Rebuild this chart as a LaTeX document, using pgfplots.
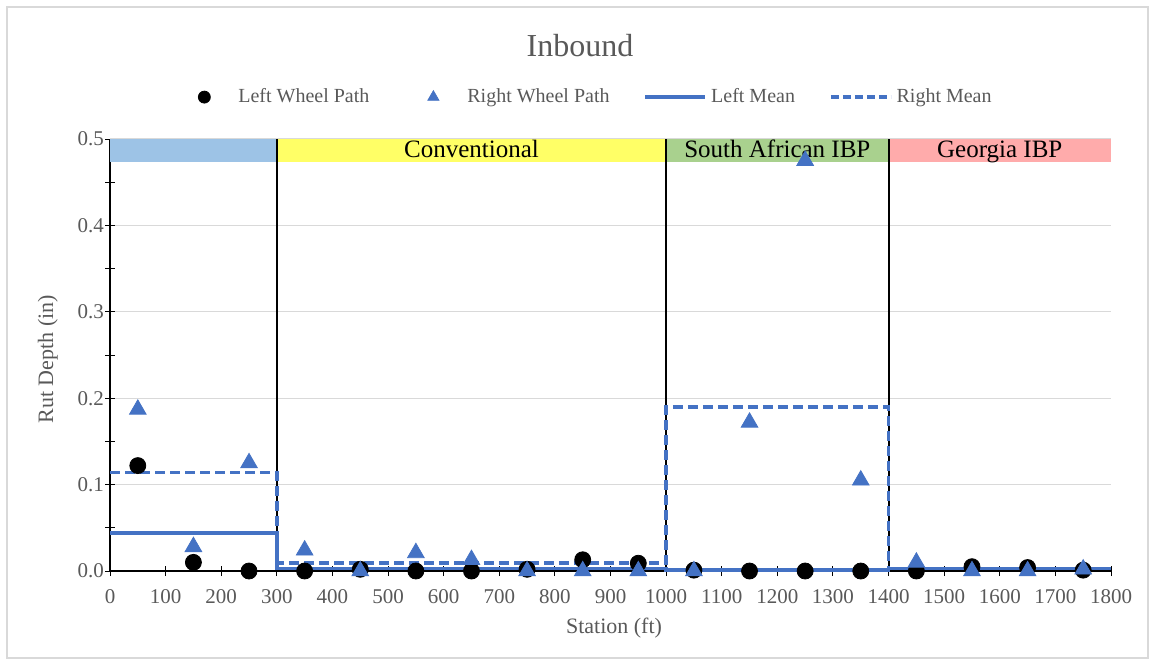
\documentclass[border=0pt]{standalone}
\usepackage{fontspec}
\setmainfont{Liberation Serif}
\usepackage{pgfplots}
\usepackage{pgfplotstable}
\pgfplotsset{compat=1.18}
\definecolor{textgray}{HTML}{595959}
\definecolor{serblue}{HTML}{4472C4}
\definecolor{bandblue}{HTML}{9DC3E6}
\definecolor{bandyellow}{HTML}{FFFF66}
\definecolor{bandgreen}{HTML}{A9D18E}
\definecolor{bandpink}{HTML}{FFABAB}
\definecolor{gridgray}{HTML}{D9D9D9}
\definecolor{framegray}{HTML}{D9D9D9}

\pgfplotsset{
  markleg/.style={legend image code/.code={\path[draw=none, fill=none] (0pt,0pt) rectangle (30pt,0pt);\draw[mark repeat=2,mark phase=2,##1] plot coordinates {(0pt,0pt) (15pt,0pt) (30pt,0pt)};}},
  lineleg/.style={legend image code/.code={\draw[##1] (0pt,0pt) -- (30pt,0pt);}},
}

\pgfplotstableread{
x y
50 0.122
150 0.010
250 0.000
350 0.000
450 0.002
550 0.000
650 0.000
750 0.002
850 0.013
950 0.009
1050 0.001
1150 0.000
1250 0.000
1350 0.000
1450 0.000
1550 0.005
1650 0.004
1750 0.001
}\leftwheel

\pgfplotstableread{
x y
50 0.187
150 0.028
250 0.125
350 0.024
450 0.000
550 0.021
650 0.013
750 0.000
850 0.000
950 0.000
1050 0.000
1150 0.172
1250 0.475
1350 0.105
1450 0.010
1550 0.000
1650 0.000
1750 0.002
}\rightwheel

\pgfplotstableread{
x y
0 0.044
300 0.044
300 0.003
1000 0.003
1000 0.001
1400 0.001
1400 0.003
1800 0.003
}\leftmean

\pgfplotstableread{
x y
0 0.114
300 0.114
300 0.009
1000 0.009
1000 0.190
1400 0.190
1400 0.003
1800 0.003
}\rightmean

\begin{document}
\begin{tikzpicture}
\useasboundingbox (0pt,0pt) rectangle (577.5pt,-332.5pt);
\draw[framegray, line width=0.75pt] (3.5pt,-3.5pt) rectangle (574pt,-329pt);
\node[anchor=base, font=\fontsize{16}{19}\selectfont, text=textgray] at (290pt,-28pt) {Inbound};
\begin{axis}[
  at={(55pt,-285.5pt)}, anchor=south west,
  scale only axis, width=500.5pt, height=216pt,
  xmin=0, xmax=1800, ymin=0, ymax=0.5,
  clip=false,
  axis lines=left,
  axis line style={-, black, line width=0.6pt},
  xtick={0,100,...,1800},
  ytick={0,0.1,...,0.5},
  minor ytick={0.05,0.15,...,0.45},
  ymajorgrids=true,
  major grid style={gridgray, line width=0.6pt},
  minor grid style={draw=none},
  tick align=center,
  major tick length=5pt, minor tick length=5pt,
  tick style={black, line width=0.5pt},
  /pgf/number format/assume math mode=true,
  yticklabel style={/pgf/number format/.cd, fixed, fixed zerofill, precision=1, /tikz/.cd, xshift=3pt},
  xticklabel style={/pgf/number format/.cd, fixed, 1000 sep={}, /tikz/.cd, yshift=-3pt},
  ticklabel style={font=\fontsize{10.5}{12}\selectfont, text=textgray},
  scaled y ticks=false,
  xlabel={Station (ft)},
  ylabel={Rut Depth (in)},
  label style={font=\fontsize{11}{13}\selectfont, text=textgray},
  xlabel style={at={(axis description cs:0.5035,-0.132)}, anchor=center},
  ylabel style={at={(axis description cs:-0.062,0.49)}, anchor=center},
  legend columns=4,
  legend style={at={(axis description cs:0.4745,1.097)}, anchor=center,
    draw=none, fill=none, font=\fontsize{10}{12}\selectfont, text=textgray,
    /tikz/every even column/.append style={column sep=15pt}},
]
% legend entries
\addlegendimage{only marks, mark=*, black, mark size=3pt, markleg}
\addlegendentry{Left Wheel Path}
\addlegendimage{only marks, mark=triangle*, serblue, mark size=3.2pt, markleg}
\addlegendentry{Right Wheel Path}
\addlegendimage{serblue, line width=1.8pt, lineleg}
\addlegendentry{Left Mean}
\addlegendimage{serblue, line width=1.8pt, dash pattern=on 4pt off 2pt, lineleg}
\addlegendentry{Right Mean}

% section bands
\addplot[fill=bandblue, draw=none, forget plot] coordinates {(0,0.473) (300,0.473) (300,0.5) (0,0.5)} -- cycle;
\addplot[fill=bandyellow, draw=none, forget plot] coordinates {(300,0.473) (1000,0.473) (1000,0.5) (300,0.5)} -- cycle;
\addplot[fill=bandgreen, draw=none, forget plot] coordinates {(1000,0.473) (1400,0.473) (1400,0.5) (1000,0.5)} -- cycle;
\addplot[fill=bandpink, draw=none, forget plot] coordinates {(1400,0.473) (1800,0.473) (1800,0.5) (1400,0.5)} -- cycle;

% separators
\addplot[black, line width=1pt, forget plot] coordinates {(300,0) (300,0.5)};
\addplot[black, line width=1pt, forget plot] coordinates {(1000,0) (1000,0.5)};
\addplot[black, line width=1pt, forget plot] coordinates {(1400,0) (1400,0.5)};

% means
\addplot[serblue, line width=1.8pt, forget plot] table[x=x, y=y] {\leftmean};
\addplot[serblue, line width=1.8pt, dash pattern=on 5pt off 2.5pt, forget plot] table[x=x, y=y] {\rightmean};

% points
\addplot[only marks, mark=*, black, mark size=4pt, forget plot] table[x=x, y=y] {\leftwheel};
\addplot[only marks, mark=triangle*, serblue, mark options={draw=serblue, fill=serblue}, mark size=4.8pt, forget plot] table[x=x, y=y] {\rightwheel};

% band labels
\node[anchor=base, font=\fontsize{12.5}{15}\selectfont] at (axis cs:650,0.4785) {Conventional};
\node[anchor=base, font=\fontsize{12.5}{15}\selectfont] at (axis cs:1200,0.4785) {South African IBP};
\node[anchor=base, font=\fontsize{12.5}{15}\selectfont] at (axis cs:1600,0.4785) {Georgia IBP};
\end{axis}
\end{tikzpicture}
\end{document}
